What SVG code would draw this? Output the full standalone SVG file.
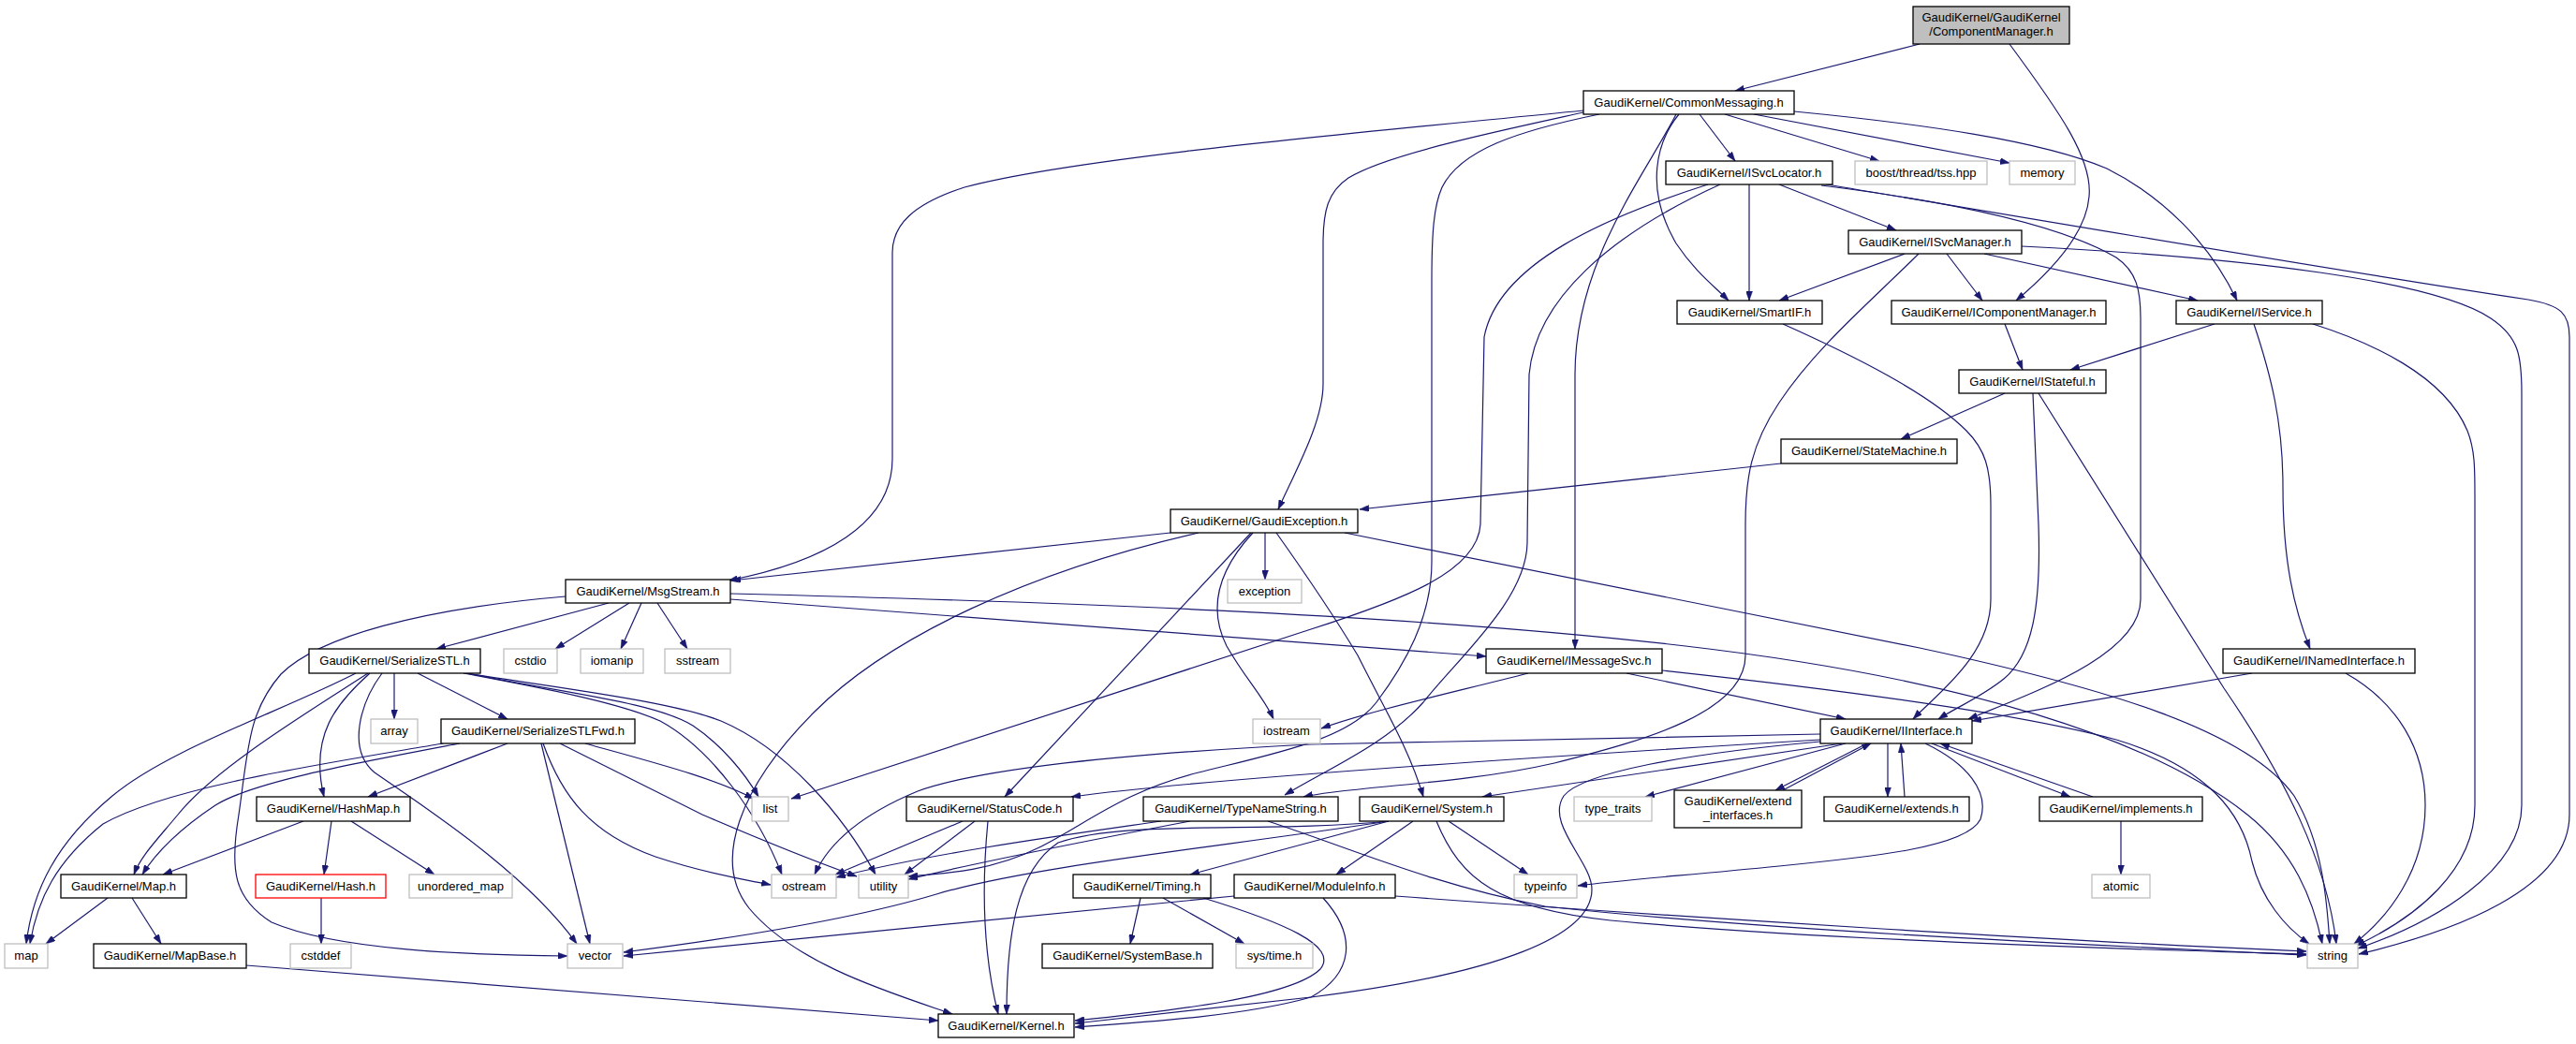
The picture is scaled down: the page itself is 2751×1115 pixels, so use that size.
<svg xmlns="http://www.w3.org/2000/svg" width="2751" height="1115" viewBox="0 0 2751 1115">
<style>
.n rect{fill:#ffffff;stroke:#000000;stroke-width:1.3}
.x rect{fill:#ffffff;stroke:#bfbfbf;stroke-width:1.3}
.r rect{fill:#ffffff;stroke:#ff0000;stroke-width:1.3}
.root rect{fill:#bfbfbf;stroke:#000000;stroke-width:1.3}
text{font-family:"Liberation Sans",Arial,Helvetica,sans-serif;font-size:13px;fill:#000000;text-anchor:middle}
.e path{fill:none;stroke:#191970;stroke-width:1.2;marker-end:url(#a)}
</style>
<defs>
<marker id="a" viewBox="0 0 10 7" refX="10" refY="3.5" markerWidth="10" markerHeight="7" markerUnits="userSpaceOnUse" orient="auto">
<path d="M0,0 L10,3.5 L0,7 z" fill="#191970" stroke="#191970" stroke-width="0.5"/>
</marker>
</defs>
<rect x="0" y="0" width="2751" height="1115" fill="#ffffff"/>
<g id="edges" class="e">
<path d="M2050,47 L1853,97"/>
<path d="M2146,47 C2200,120 2235,170 2231,210 C2228,250 2190,290 2153,321"/>
<path d="M1815,122 L1853,172"/>
<path d="M1842,122 L2007,172"/>
<path d="M1873,122 L2146,174"/>
<path d="M1916,119 C2050,132 2180,150 2250,180 C2310,210 2360,260 2389,321"/>
<path d="M1793,122 C1770,150 1755,200 1790,260 C1810,290 1830,305 1846,321"/>
<path d="M1790,122 C1755,190 1682,280 1682,400 L1682,693"/>
<path d="M1691,120 C1600,140 1480,165 1440,190 C1418,205 1413,225 1413,260 L1413,410 C1413,450 1385,500 1365,544"/>
<path d="M1708,122 C1620,140 1560,160 1540,200 C1531,220 1529,250 1529,300 L1529,600 C1529,660 1500,710 1470,750 C1440,790 1360,805 1280,825 C1200,845 1160,880 1110,905 C1060,930 1010,933 970,936"/>
<path d="M1691,118 C1450,142 1150,168 1030,200 C975,218 953,240 953,270 L953,490 C953,560 880,600 778,620"/>
<path d="M1824,197 C1720,230 1600,280 1585,360 L1581,560 C1578,610 1500,640 1400,672 L845,853"/>
<path d="M1837,197 C1720,250 1640,320 1633,400 L1631,580 C1630,640 1560,700 1520,750 C1480,795 1420,820 1372,849"/>
<path d="M1868,197 L1868,321"/>
<path d="M1900,197 L2025,246"/>
<path d="M1945,196 C2100,222 2500,290 2700,320 C2735,326 2744,335 2744,360 L2744,870 C2744,950 2620,995 2519,1019"/>
<path d="M1945,198 C2080,215 2200,240 2260,275 C2282,290 2286,310 2286,340 L2286,640 C2286,700 2170,740 2102,768"/>
<path d="M2034,271 L1900,321"/>
<path d="M2049,271 C2000,320 1940,370 1900,430 C1870,475 1864,510 1864,560 L1864,700 C1864,760 1760,790 1660,815 C1560,838 1440,840 1392,851"/>
<path d="M2079,271 L2117,321"/>
<path d="M2119,271 L2347,321"/>
<path d="M2159,263 C2400,275 2600,300 2660,340 C2690,360 2693,380 2693,420 L2693,860 C2693,930 2600,985 2518,1013"/>
<path d="M2141,346 L2160,395"/>
<path d="M2365,346 L2211,395"/>
<path d="M2407,346 C2425,400 2438,450 2438,520 C2438,600 2450,650 2467,693"/>
<path d="M2470,346 C2530,365 2610,400 2635,460 C2643,480 2643,500 2643,530 L2643,860 C2643,930 2580,980 2516,1010"/>
<path d="M2141,420 L2030,469"/>
<path d="M2171,420 L2177,560 C2180,650 2170,700 2140,725 C2115,745 2090,755 2070,768"/>
<path d="M2177,420 L2375,735 C2440,830 2485,920 2495,1008"/>
<path d="M1902,495 L1452,544"/>
<path d="M1250,569 L781,620"/>
<path d="M1280,569 C1100,610 950,680 870,760 C790,840 760,920 800,970 C850,1030 950,1060 1017,1083"/>
<path d="M1336,569 L1073,851"/>
<path d="M1338,569 C1300,610 1290,650 1310,690 C1330,725 1350,745 1360,768"/>
<path d="M1351,569 L1351,619"/>
<path d="M1363,569 C1385,600 1420,650 1450,700 C1480,760 1505,800 1520,851"/>
<path d="M1436,569 L2050,692 C2250,735 2400,780 2450,850 C2480,900 2485,960 2488,1008"/>
<path d="M604,637 C450,650 340,680 300,720 C265,760 265,800 255,870 C245,930 250,960 290,985 C360,1015 500,1020 606,1021"/>
<path d="M650,644 L466,693"/>
<path d="M672,644 L593,693"/>
<path d="M685,644 L663,693"/>
<path d="M702,644 L734,693"/>
<path d="M780,640 L1587,701"/>
<path d="M780,634 C1100,642 1500,655 1800,690 C2100,725 2300,790 2400,870 C2450,910 2470,960 2480,1008"/>
<path d="M380,719 C300,760 180,800 120,850 C60,900 35,950 28,1008"/>
<path d="M393,719 C330,760 230,820 190,870 C165,900 150,915 143,934"/>
<path d="M395,719 C360,750 330,785 346,851"/>
<path d="M408,719 C385,750 370,800 400,825 C450,860 560,930 616,1008"/>
<path d="M421,719 L421,768"/>
<path d="M446,719 L542,768"/>
<path d="M500,719 C600,740 700,750 740,775 C770,795 795,825 810,851"/>
<path d="M497,719 C600,735 720,750 770,770 C840,800 900,870 935,934"/>
<path d="M495,719 C580,735 660,750 705,770 C760,800 810,870 835,934"/>
<path d="M473,794 C350,815 180,840 110,880 C60,920 40,960 32,1008"/>
<path d="M491,794 C380,815 270,835 230,860 C200,880 170,905 152,934"/>
<path d="M542,794 L393,851"/>
<path d="M578,794 L630,1008"/>
<path d="M580,794 C600,850 630,890 700,915 C760,935 800,940 823,945"/>
<path d="M598,794 C650,820 700,845 750,870 C820,900 870,920 915,936"/>
<path d="M625,794 C700,815 760,830 805,853"/>
<path d="M324,877 L174,934"/>
<path d="M354,877 L346,934"/>
<path d="M375,877 L464,934"/>
<path d="M115,959 L49,1008"/>
<path d="M141,959 L172,1008"/>
<path d="M343,959 L343,1008"/>
<path d="M263,1031 L1002,1090"/>
<path d="M1632,719 C1550,740 1460,760 1411,778"/>
<path d="M1737,719 L1971,768"/>
<path d="M1775,716 C1950,735 2150,760 2260,790 C2360,820 2395,870 2405,920 C2415,960 2440,990 2466,1008"/>
<path d="M2405,719 L2106,770"/>
<path d="M2505,719 C2560,750 2590,800 2590,860 C2590,930 2550,980 2514,1008"/>
<path d="M1944,784 L1400,795 C1200,805 1050,820 980,845 C920,870 885,900 870,934"/>
<path d="M1944,790 C1700,805 1300,830 1144,851"/>
<path d="M1944,792 C1800,805 1690,825 1670,850 C1650,880 1700,920 1700,950 C1700,1000 1600,1040 1400,1065 L1148,1093"/>
<path d="M1967,794 L1583,851"/>
<path d="M1971,794 L1757,851"/>
<path d="M1994,794 L1896,844"/>
<path d="M1904,844 L1998,794"/>
<path d="M2016,794 L2016,851"/>
<path d="M2034,851 L2030,794"/>
<path d="M2063,794 L2211,851"/>
<path d="M2235,851 L2072,794"/>
<path d="M2056,794 C2100,815 2125,845 2115,875 C2100,905 2000,915 1900,925 C1800,935 1730,940 1685,946"/>
<path d="M2265,877 L2265,934"/>
<path d="M1028,877 L892,934"/>
<path d="M1041,877 L966,934"/>
<path d="M1055,877 C1048,950 1050,1020 1066,1083"/>
<path d="M1240,877 C1150,890 1000,910 893,937"/>
<path d="M1271,877 C1150,900 1050,920 970,939"/>
<path d="M1354,877 C1440,905 1530,945 1650,968 C1900,995 2250,1010 2463,1020"/>
<path d="M1483,877 C1350,890 1200,875 1130,900 C1085,930 1075,1000 1075,1083"/>
<path d="M1483,877 C1300,905 1100,925 1000,955 C900,985 760,1005 666,1017"/>
<path d="M1483,877 L1271,934"/>
<path d="M1509,877 L1427,934"/>
<path d="M1534,877 C1560,940 1600,970 1720,983 C1900,1000 2200,1012 2463,1019"/>
<path d="M1547,877 L1632,934"/>
<path d="M1318,957 L666,1021"/>
<path d="M1490,957 C1800,980 2200,1005 2463,1016"/>
<path d="M1413,959 C1450,1000 1445,1040 1400,1065 C1330,1085 1220,1092 1148,1097"/>
<path d="M1285,959 C1370,985 1430,1010 1410,1035 C1380,1065 1250,1080 1148,1090"/>
<path d="M1218,959 L1207,1008"/>
<path d="M1242,959 L1329,1008"/>
<path d="M1904,346 C1980,380 2060,420 2100,460 C2120,480 2126,500 2126,540 L2126,640 C2126,700 2070,740 2043,768"/>
</g>
<g id="n_componentmanager" class="root"><rect x="2043" y="7" width="167" height="40"/><text x="2126.5" y="23">GaudiKernel/GaudiKernel</text><text x="2126.5" y="38">/ComponentManager.h</text></g>
<g id="n_commonmessaging" class="n"><rect x="1691" y="97" width="225" height="25"/><text x="1803.5" y="114">GaudiKernel/CommonMessaging.h</text></g>
<g id="n_isvclocator" class="n"><rect x="1779" y="172" width="178" height="25"/><text x="1868" y="189">GaudiKernel/ISvcLocator.h</text></g>
<g id="n_boost" class="x"><rect x="1981" y="172" width="141" height="25"/><text x="2051.5" y="189">boost/thread/tss.hpp</text></g>
<g id="n_memory" class="x"><rect x="2146" y="172" width="70" height="25"/><text x="2181" y="189">memory</text></g>
<g id="n_isvcmanager" class="n"><rect x="1974" y="246" width="185" height="25"/><text x="2066.5" y="263">GaudiKernel/ISvcManager.h</text></g>
<g id="n_smartif" class="n"><rect x="1791" y="321" width="155" height="25"/><text x="1868.5" y="338">GaudiKernel/SmartIF.h</text></g>
<g id="n_icomponentmanager" class="n"><rect x="2020" y="321" width="229" height="25"/><text x="2134.5" y="338">GaudiKernel/IComponentManager.h</text></g>
<g id="n_iservice" class="n"><rect x="2324" y="321" width="156" height="25"/><text x="2402" y="338">GaudiKernel/IService.h</text></g>
<g id="n_istateful" class="n"><rect x="2092" y="395" width="157" height="25"/><text x="2170.5" y="412">GaudiKernel/IStateful.h</text></g>
<g id="n_statemachine" class="n"><rect x="1902" y="469" width="188" height="26"/><text x="1996" y="486">GaudiKernel/StateMachine.h</text></g>
<g id="n_gaudiexception" class="n"><rect x="1250" y="544" width="200" height="25"/><text x="1350" y="561">GaudiKernel/GaudiException.h</text></g>
<g id="n_msgstream" class="n"><rect x="604" y="619" width="176" height="25"/><text x="692" y="636">GaudiKernel/MsgStream.h</text></g>
<g id="n_exception" class="x"><rect x="1311" y="619" width="79" height="25"/><text x="1350.5" y="636">exception</text></g>
<g id="n_cstdio" class="x"><rect x="538" y="693" width="57" height="26"/><text x="566.5" y="710">cstdio</text></g>
<g id="n_iomanip" class="x"><rect x="620" y="693" width="67" height="26"/><text x="653.5" y="710">iomanip</text></g>
<g id="n_sstream" class="x"><rect x="710" y="693" width="70" height="26"/><text x="745" y="710">sstream</text></g>
<g id="n_serializestl" class="n"><rect x="330" y="693" width="183" height="26"/><text x="421.5" y="710">GaudiKernel/SerializeSTL.h</text></g>
<g id="n_imessagesvc" class="n"><rect x="1587" y="693" width="188" height="26"/><text x="1681" y="710">GaudiKernel/IMessageSvc.h</text></g>
<g id="n_inamedinterface" class="n"><rect x="2374" y="693" width="205" height="26"/><text x="2476.5" y="710">GaudiKernel/INamedInterface.h</text></g>
<g id="n_array" class="x"><rect x="396" y="768" width="50" height="26"/><text x="421" y="785">array</text></g>
<g id="n_serializestlfwd" class="n"><rect x="471" y="768" width="207" height="26"/><text x="574.5" y="785">GaudiKernel/SerializeSTLFwd.h</text></g>
<g id="n_iostream" class="x"><rect x="1338" y="768" width="72" height="26"/><text x="1374" y="785">iostream</text></g>
<g id="n_iinterface" class="n"><rect x="1944" y="768" width="162" height="26"/><text x="2025" y="785">GaudiKernel/IInterface.h</text></g>
<g id="n_hashmap" class="n"><rect x="274" y="851" width="164" height="26"/><text x="356" y="868">GaudiKernel/HashMap.h</text></g>
<g id="n_list" class="x"><rect x="803" y="851" width="39" height="26"/><text x="822.5" y="868">list</text></g>
<g id="n_statuscode" class="n"><rect x="968" y="851" width="178" height="26"/><text x="1057" y="868">GaudiKernel/StatusCode.h</text></g>
<g id="n_typenamestring" class="n"><rect x="1221" y="851" width="208" height="26"/><text x="1325" y="868">GaudiKernel/TypeNameString.h</text></g>
<g id="n_system" class="n"><rect x="1452" y="851" width="154" height="26"/><text x="1529" y="868">GaudiKernel/System.h</text></g>
<g id="n_type_traits" class="x"><rect x="1681" y="851" width="83" height="26"/><text x="1722.5" y="868">type_traits</text></g>
<g id="n_extend_interfaces" class="n"><rect x="1788" y="844" width="136" height="40"/><text x="1856" y="860">GaudiKernel/extend</text><text x="1856" y="875">_interfaces.h</text></g>
<g id="n_extends" class="n"><rect x="1948" y="851" width="155" height="26"/><text x="2025.5" y="868">GaudiKernel/extends.h</text></g>
<g id="n_implements" class="n"><rect x="2178" y="851" width="174" height="26"/><text x="2265" y="868">GaudiKernel/implements.h</text></g>
<g id="n_map_h" class="n"><rect x="65" y="934" width="134" height="25"/><text x="132" y="951">GaudiKernel/Map.h</text></g>
<g id="n_hash" class="r"><rect x="273" y="934" width="139" height="25"/><text x="342.5" y="951">GaudiKernel/Hash.h</text></g>
<g id="n_unordered_map" class="x"><rect x="437" y="934" width="110" height="25"/><text x="492" y="951">unordered_map</text></g>
<g id="n_ostream" class="x"><rect x="824" y="934" width="69" height="25"/><text x="858.5" y="951">ostream</text></g>
<g id="n_utility" class="x"><rect x="917" y="934" width="53" height="25"/><text x="943.5" y="951">utility</text></g>
<g id="n_timing" class="n"><rect x="1146" y="934" width="147" height="25"/><text x="1219.5" y="951">GaudiKernel/Timing.h</text></g>
<g id="n_moduleinfo" class="n"><rect x="1318" y="934" width="172" height="25"/><text x="1404" y="951">GaudiKernel/ModuleInfo.h</text></g>
<g id="n_typeinfo" class="x"><rect x="1617" y="934" width="67" height="25"/><text x="1650.5" y="951">typeinfo</text></g>
<g id="n_atomic" class="x"><rect x="2234" y="934" width="62" height="25"/><text x="2265" y="951">atomic</text></g>
<g id="n_map" class="x"><rect x="5" y="1008" width="46" height="26"/><text x="28" y="1025">map</text></g>
<g id="n_mapbase" class="n"><rect x="100" y="1008" width="163" height="26"/><text x="181.5" y="1025">GaudiKernel/MapBase.h</text></g>
<g id="n_cstddef" class="x"><rect x="310" y="1008" width="65" height="26"/><text x="342.5" y="1025">cstddef</text></g>
<g id="n_vector" class="x"><rect x="606" y="1008" width="59" height="26"/><text x="635.5" y="1025">vector</text></g>
<g id="n_systembase" class="n"><rect x="1113" y="1008" width="182" height="26"/><text x="1204" y="1025">GaudiKernel/SystemBase.h</text></g>
<g id="n_systime" class="x"><rect x="1320" y="1008" width="82" height="26"/><text x="1361" y="1025">sys/time.h</text></g>
<g id="n_string" class="x"><rect x="2464" y="1008" width="54" height="26"/><text x="2491" y="1025">string</text></g>
<g id="n_kernel" class="n"><rect x="1002" y="1083" width="145" height="25"/><text x="1074.5" y="1100">GaudiKernel/Kernel.h</text></g>
</svg>
